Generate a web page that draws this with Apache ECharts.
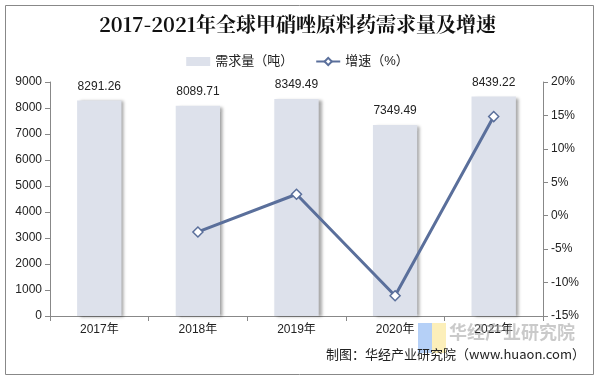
<!DOCTYPE html>
<html>
<head>
<meta charset="utf-8">
<script src="https://cdn.jsdelivr.net/npm/echarts@6/dist/echarts.min.js"></script>
<style>
  html, body { margin: 0; padding: 0; background: #fff; }
  #chart { width: 595px; height: 377px; }
</style>
</head>
<body>
<div id="chart"></div>
<script>
// 数据
var years = ['2017年', '2018年', '2019年', '2020年', '2021年'];
var demand = [8291.26, 8089.71, 8349.49, 7349.49, 8439.22];
var growth = [null, -2.43, 3.21, -11.98, 14.83];

var labelFont = 'Arial, "Liberation Sans", "Noto Sans CJK SC", sans-serif';
var chart = echarts.init(document.getElementById('chart'));

var option = {
  backgroundColor: '#fff',
  animation: false,
  title: {
    text: '2017-2021年全球甲硝唑原料药需求量及增速',
    left: 'center',
    top: 9,
    textStyle: {
      fontFamily: '"Noto Serif CJK SC", "DejaVu Serif", serif',
      fontSize: 20,
      fontWeight: 'bold',
      color: '#111'
    }
  },
  legend: {
    top: 50,
    left: 'center',
    itemGap: 22,
    itemWidth: 24,
    itemHeight: 9,
    textStyle: { fontSize: 13, color: '#222', fontFamily: labelFont },
    data: [
      { name: '需求量（吨）', icon: 'rect' },
      { name: '增速（%）' }
    ]
  },
  grid: { left: 50, right: 52, top: 82, bottom: 61 },
  xAxis: {
    type: 'category',
    data: years,
    axisLine: { lineStyle: { color: '#888' } },
    axisTick: { show: true, lineStyle: { color: '#888' } },
    axisLabel: { color: '#222', fontSize: 12, fontFamily: labelFont, margin: 8 }
  },
  yAxis: [
    {
      type: 'value',
      min: 0, max: 9000, interval: 1000,
      axisLine: { show: true, lineStyle: { color: '#888' } },
      axisTick: { show: true, lineStyle: { color: '#888' } },
      splitLine: { show: false },
      axisLabel: {
        color: '#222', fontSize: 12, fontFamily: labelFont,
        formatter: function (v) { return String(v); }
      }
    },
    {
      type: 'value',
      min: -15, max: 20, interval: 5,
      axisLine: { show: true, lineStyle: { color: '#888' } },
      axisTick: { show: true, lineStyle: { color: '#888' } },
      splitLine: { show: false },
      axisLabel: { color: '#222', fontSize: 12, fontFamily: labelFont, formatter: '{value}%' }
    }
  ],
  series: [
    {
      name: '需求量（吨）',
      type: 'bar',
      data: demand,
      barWidth: '45%',
      itemStyle: {
        color: '#dde1eb',
        shadowColor: 'rgba(0,0,0,0.35)',
        shadowBlur: 3,
        shadowOffsetX: 3,
        shadowOffsetY: 1
      },
      label: {
        show: true,
        position: 'top',
        distance: 8,
        color: '#222',
        fontSize: 12,
        fontFamily: labelFont
      }
    },
    {
      name: '增速（%）',
      type: 'line',
      yAxisIndex: 1,
      data: growth,
      symbol: 'diamond',
      symbolSize: 10,
      lineStyle: { color: '#5a6f9b', width: 3 },
      itemStyle: { color: '#fff', borderColor: '#5a6f9b', borderWidth: 1.5 }
    }
  ],
  graphic: [
    {
      type: 'rect',
      left: 3, top: 3,
      shape: { width: 588, height: 369 },
      style: { fill: 'none', stroke: '#888', lineWidth: 1 },
      silent: true
    },
    // 水印
    {
      type: 'rect', left: 418, top: 323, z: 10,
      shape: { width: 14, height: 30 },
      style: { fill: 'rgba(120,170,240,0.55)' }
    },
    {
      type: 'rect', left: 432, top: 323, z: 10,
      shape: { width: 14, height: 30 },
      style: { fill: 'rgba(250,225,130,0.55)' }
    },
    {
      type: 'text', left: 449, top: 323, z: 10,
      style: {
        text: '华经产业研究院',
        fill: 'rgba(150,150,150,0.5)',
        font: 'bold 18px "Noto Sans CJK SC", sans-serif'
      }
    },
    {
      type: 'text', right: 10, top: 348, z: 11,
      style: {
        text: '制图：华经产业研究院（www.huaon.com）',
        fill: '#222',
        font: '13px "Noto Sans CJK SC", sans-serif'
      }
    }
  ]
};

chart.setOption(option);
</script>
</body>
</html>
